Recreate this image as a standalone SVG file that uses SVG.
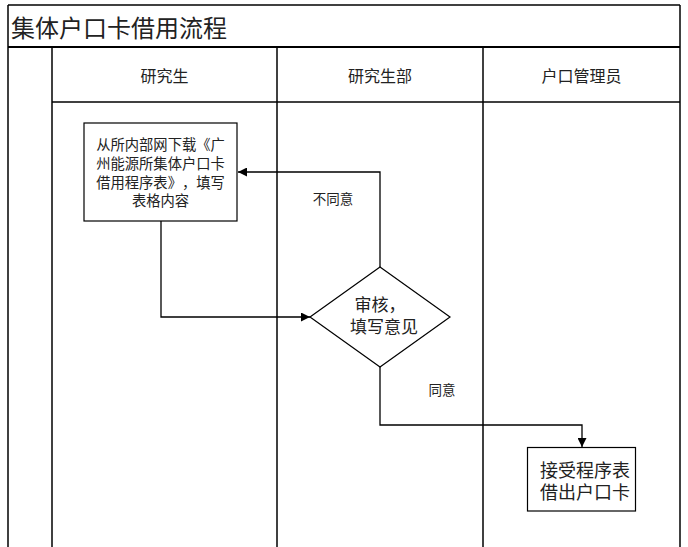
<svg xmlns="http://www.w3.org/2000/svg" width="688" height="547" viewBox="0 0 688 547">
  <style>
    .frame { fill: none; stroke: #000; stroke-width: 1.5; }
    .thick { fill: none; stroke: #000; stroke-width: 2; }
    .node { fill: #fff; stroke: #000; stroke-width: 1.2; }
    .conn { fill: none; stroke: #000; stroke-width: 1.3; }
    text { font-family: "Noto Sans CJK SC", "Noto Sans", sans-serif; fill: #222; text-anchor: middle; dominant-baseline: central; text-spacing-trim: space-all; font-feature-settings: "chws" 0, "halt" 0, "palt" 0; font-kerning: none; }
    .title { font-size: 24px; text-anchor: start; }
    .hdr { font-size: 16px; }
    .lbl { font-size: 13.5px; }
    .t1 { font-size: 14.3px; }
    .t2 { font-size: 17px; }
    .t3 { font-size: 18px; }
  </style>
  <defs>
    <marker id="arr" viewBox="0 0 10 10" refX="10" refY="5" markerWidth="9" markerHeight="9" markerUnits="userSpaceOnUse" orient="auto">
      <path d="M0,0 L10,5 L0,10 Z" fill="#000"/>
    </marker>
  </defs>
  <rect x="0" y="0" width="688" height="547" fill="#fff"/>

  <g id="frame">
    <line class="frame" x1="8" y1="5" x2="680" y2="5"/>
    <line class="frame" x1="8" y1="5" x2="8" y2="547"/>
    <line class="frame" x1="680" y1="5" x2="680" y2="547"/>
    <line class="thick" x1="8" y1="47" x2="680" y2="47"/>
    <line class="frame" x1="52" y1="47" x2="52" y2="547"/>
    <line class="frame" x1="277" y1="47" x2="277" y2="547"/>
    <line class="frame" x1="483" y1="47" x2="483" y2="547"/>
    <line class="frame" x1="52" y1="102" x2="680" y2="102"/>
    <text class="title" x="11" y="26">集体户口卡借用流程</text>
  </g>

  <g id="lane-headers">
    <text class="hdr" x="164.5" y="75">研究生</text>
    <text class="hdr" x="380" y="75">研究生部</text>
    <text class="hdr" x="581.5" y="75">户口管理员</text>
  </g>

  <g id="connectors">
    <polyline class="conn" points="380,267 380,172 238,172" marker-end="url(#arr)"/>
    <polyline class="conn" points="161,221 161,317 310,317" marker-end="url(#arr)"/>
    <polyline class="conn" points="380,367 380,425 582,425 582,447" marker-end="url(#arr)"/>
    <text class="lbl" x="333" y="198">不同意</text>
    <text class="lbl" x="442" y="389">同意</text>
  </g>

  <g id="node-download">
    <rect class="node" x="84" y="123" width="153" height="98"/>
    <text class="t1" x="160.5" y="143">从所内部网下载《广</text>
    <text class="t1" x="160.5" y="162">州能源所集体户口卡</text>
    <text class="t1" x="160.5" y="181">借用程序表》，填写</text>
    <text class="t1" x="160.5" y="199">表格内容</text>
  </g>

  <g id="node-review">
    <polygon class="node" points="380,267 450,317 380,367 310,317"/>
    <text class="t2" x="380" y="303">审核，</text>
    <text class="t2" x="384" y="325">填写意见</text>
  </g>

  <g id="node-issue">
    <rect class="node" x="527.5" y="447.5" width="108" height="63.5"/>
    <text class="t3" x="585" y="469">接受程序表</text>
    <text class="t3" x="585" y="491">借出户口卡</text>
  </g>
</svg>
